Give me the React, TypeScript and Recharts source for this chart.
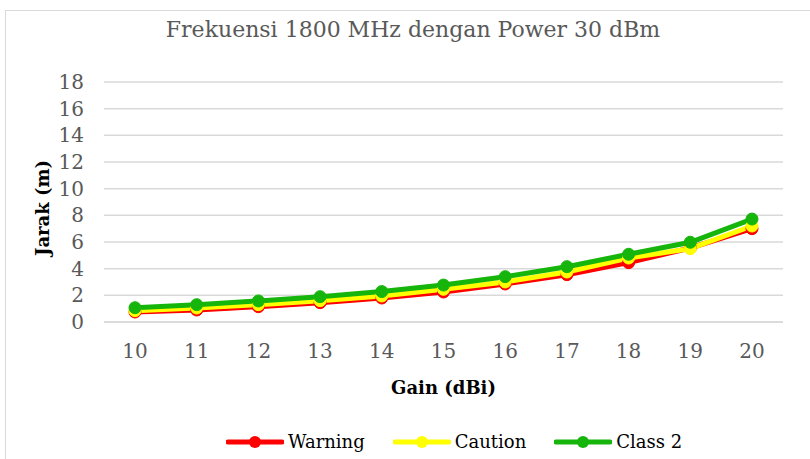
import React from 'react';
import {
  LineChart, Line, XAxis, YAxis, CartesianGrid, Label,
} from 'recharts';

const gains = ['10', '11', '12', '13', '14', '15', '16', '17', '18', '19', '20'];
const warning = [0.75, 0.9, 1.15, 1.45, 1.8, 2.25, 2.85, 3.55, 4.45, 5.55, 7.0];
const caution = [0.85, 1.05, 1.3, 1.6, 1.95, 2.45, 3.0, 3.75, 4.8, 5.5, 7.2];
const class2 = [1.07, 1.3, 1.58, 1.9, 2.28, 2.77, 3.4, 4.15, 5.08, 5.98, 7.72];
const yTicks = [0, 2, 4, 6, 8, 10, 12, 14, 16, 18];

const SERIES = [
  { key: 'warning', name: 'Warning', color: '#ff0000' },
  { key: 'caution', name: 'Caution', color: '#ffff00' },
  { key: 'class2', name: 'Class 2', color: '#16b50c' },
];

const FONT = '"DejaVu Serif", serif';
const AXIS_TITLE = { fontFamily: FONT, fontSize: 18, fontWeight: 'bold', fill: '#000' };

const chartData = gains.map((g, i) => ({
  gain: g,
  warning: warning[i],
  caution: caution[i],
  class2: class2[i],
}));

function LegendBox() {
  return (
    <div style={{
      position: 'absolute', left: 226, top: 431, display: 'flex', gap: 28,
      fontFamily: FONT, fontSize: 18, color: '#000',
    }}>
      {SERIES.map(s => (
        <div key={s.key} style={{ display: 'flex', alignItems: 'center' }}>
          <svg width={58} height={14} style={{ marginRight: 4 }}>
            <line x1={2} y1={7} x2={56} y2={7} stroke={s.color} strokeWidth={5} strokeLinecap="round" />
            <circle cx={29} cy={7} r={6} fill={s.color} />
          </svg>
          <span>{s.name}</span>
        </div>
      ))}
    </div>
  );
}

export default function App() {
  return (
    <div style={{ position: 'absolute', left: 0, top: 0, width: 810, height: 459, overflow: 'hidden', background: '#fff' }}>
      <div style={{ position: 'absolute', left: 5, top: 10, width: 830, height: 470, border: '1px solid #d9d9d9' }} />
      <div style={{
        position: 'absolute', left: 0, top: 17, width: 826, textAlign: 'center',
        fontFamily: FONT, fontSize: 22, color: '#595959',
      }}>
        Frekuensi 1800 MHz dengan Power 30 dBm
      </div>
      <div style={{ position: 'absolute', left: 0, top: 0 }}>
        <LineChart width={810} height={459} data={chartData}
          margin={{ top: 82, right: 27, left: 0, bottom: 57 }}>
          <CartesianGrid vertical={false} stroke="#d9d9d9" strokeWidth={1.5} />
          <XAxis
            dataKey="gain"
            padding={{ left: 31, right: 31 }}
            axisLine={{ stroke: '#d9d9d9', strokeWidth: 1.5 }}
            tickLine={false}
            tickMargin={16}
            interval={0}
            tick={{ fill: '#595959', fontSize: 20, fontFamily: FONT }}
            height={80}
          >
            <Label
              value="Gain (dBi)"
              position="insideTop"
              offset={59}
              style={AXIS_TITLE}
            />
          </XAxis>
          <YAxis
            width={104}
            domain={[0, 18]}
            ticks={yTicks}
            interval={0}
            axisLine={false}
            tickLine={false}
            tickMargin={14}
            tick={{ fill: '#595959', fontSize: 20, fontFamily: FONT }}
          >
            <Label
              content={() => (
                <text x={42} y={208} transform="rotate(-90 42 208)" textAnchor="middle"
                  dominantBaseline="central" style={AXIS_TITLE}>
                  Jarak (m)
                </text>
              )}
            />
          </YAxis>
          {SERIES.map(s => (
            <Line
              key={s.key}
              dataKey={s.key}
              name={s.name}
              type="linear"
              stroke={s.color}
              strokeWidth={5}
              dot={{ r: 6, fill: s.color, stroke: s.color, strokeWidth: 1 }}
              activeDot={false}
              isAnimationActive={false}
            />
          ))}
        </LineChart>
      </div>
      <LegendBox />
    </div>
  );
}
